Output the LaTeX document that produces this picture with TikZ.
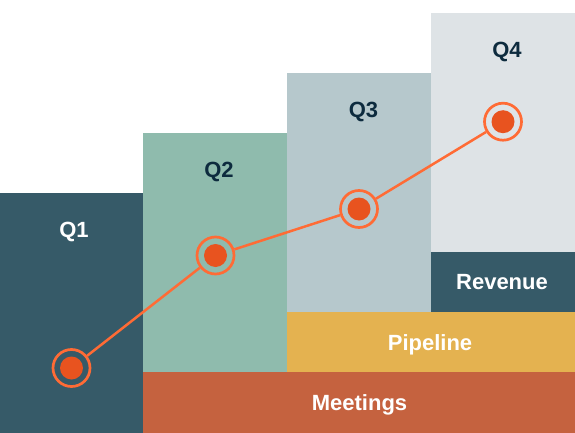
\documentclass[tikz,border=0pt]{standalone}
\usepackage{fontspec}
\setmainfont{Liberation Sans}
\definecolor{tealdark}{HTML}{365A68}
\definecolor{qtwo}{HTML}{8FBBAD}
\definecolor{qthree}{HTML}{B6C8CC}
\definecolor{qfour}{HTML}{DEE3E6}
\definecolor{pipe}{HTML}{E4B250}
\definecolor{meet}{HTML}{C5623F}
\definecolor{navy}{HTML}{0D2B3E}
\definecolor{ringcol}{HTML}{FF6B35}
\definecolor{dotcol}{HTML}{E8531F}
\tikzset{
  lbl/.style={font=\fontsize{22}{24}\selectfont\bfseries, inner sep=0pt, anchor=base},
  ring/.style={circle, draw=ringcol, line width=2.7pt, minimum size=37pt, inner sep=0pt},
  dot/.style={circle, fill=dotcol, minimum size=23pt, inner sep=0pt},
  trend/.style={draw=ringcol, line width=2.5pt}
}
\begin{document}
\begin{tikzpicture}[x=1pt,y=-1pt]
\useasboundingbox (0,0) rectangle (575,433);
\fill[white] (0,0) rectangle (575,433);
% columns
\fill[tealdark] (0,193) rectangle (143,433);
\fill[qtwo] (143,133) rectangle (287,372);
\fill[qthree] (287,73) rectangle (431,312);
\fill[qfour] (431,13) rectangle (575,252);
\fill[tealdark] (431,252) rectangle (575,312);
\fill[pipe] (287,312) rectangle (575,372);
\fill[meet] (143,372) rectangle (575,433);
% labels
\node[lbl, text=white] (l1) at (74,237.5) {Q1};
\node[lbl, text=navy] (l2) at (219,177.3) {Q2};
\node[lbl, text=navy] (l3) at (363.5,117.3) {Q3};
\node[lbl, text=navy] (l4) at (507,57.3) {Q4};
\node[lbl, text=white] (rev) at (502,289.3) {Revenue};
\node[lbl, text=white] (pip) at (430,350) {Pipeline};
\node[lbl, text=white] (mtg) at (359.5,410.5) {Meetings};
% trend
\node[ring] (r1) at (71.5,368) {};
\node[ring] (r2) at (215.5,255.5) {};
\node[ring] (r3) at (359,209) {};
\node[ring] (r4) at (503,121.7) {};
\node[dot] (d1) at (r1) {};
\node[dot] (d2) at (r2) {};
\node[dot] (d3) at (r3) {};
\node[dot] (d4) at (r4) {};
\draw[trend] (r1) -- (r2);
\draw[trend] (r2) -- (r3);
\draw[trend] (r3) -- (r4);
\end{tikzpicture}
\end{document}
